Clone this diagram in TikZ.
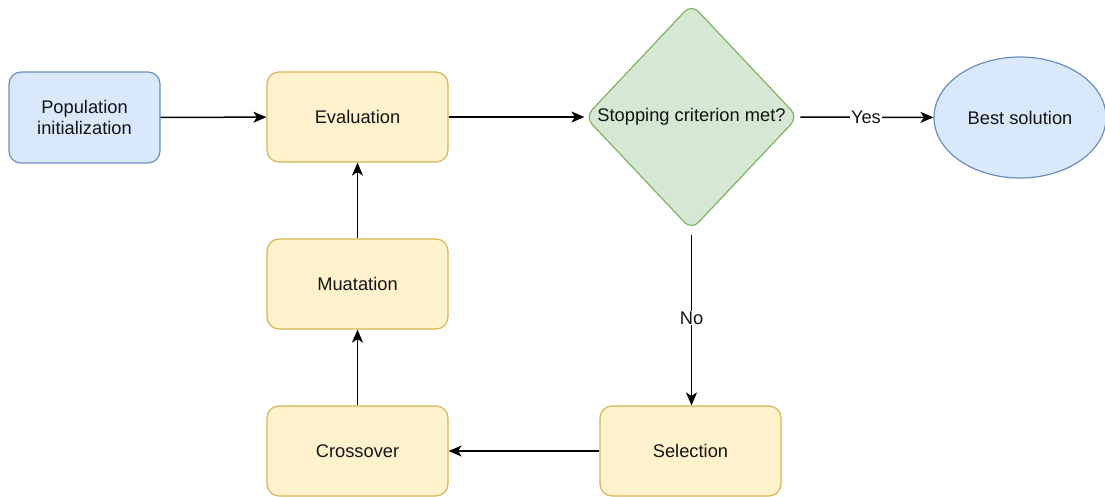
\documentclass[tikz,border=0pt]{standalone}
\usepackage{fontspec}
\setmainfont{Liberation Sans}
\usetikzlibrary{shapes.geometric,arrows.meta}
\definecolor{bluefill}{HTML}{DAE8FC}
\definecolor{bluedraw}{HTML}{6C8EBF}
\definecolor{yellowfill}{HTML}{FFF2CC}
\definecolor{yellowdraw}{HTML}{D6B656}
\definecolor{greenfill}{HTML}{D5E8D4}
\definecolor{greendraw}{HTML}{82B366}
\tikzset{
  every node/.style={font=\fontsize{18.3}{21.5}\selectfont, text=black!92},
  stepbox/.style={draw=yellowdraw, fill=yellowfill, line width=1.2pt, rounded corners=12pt,
    minimum width=181pt, minimum height=90pt, inner sep=0pt, align=center},
  startbox/.style={draw=bluedraw, fill=bluefill, line width=1.2pt, rounded corners=12pt,
    minimum width=151pt, minimum height=91pt, inner sep=0pt, align=center},
  decision/.style={diamond, draw=greendraw, fill=greenfill, line width=1.2pt, rounded corners=10pt,
    minimum width=213pt, minimum height=226pt, inner sep=0pt},
  endnode/.style={ellipse, draw=bluedraw, fill=bluefill, line width=1.2pt,
    minimum width=172pt, minimum height=121pt, inner sep=0pt},
  flow/.style={-{Stealth[length=13pt,width=11pt,inset=3.5pt]}, line width=1.5pt, black},
  edgelabel/.style={fill=white, inner sep=1pt}
}
\begin{document}
\begin{tikzpicture}[x=1pt, y=-1pt]
  \useasboundingbox (0,0) rectangle (1105,496);
  \begin{scope}
    \clip (0,0) rectangle (1105,496);
    \node[startbox] (init) at (84.5,117.5) {Population\\initialization};
    \node[stepbox] (eval) at (357.5,117) {Evaluation};
    \node[decision, label={[name=crit]center:Stopping criterion met?}] (stop) at (691.5,117) {};
    \node[endnode] (best) at (1020,117.5) {Best solution};
    \node[stepbox] (mut) at (357.5,284) {Muatation};
    \node[stepbox] (cross) at (357.5,451) {Crossover};
    \node[stepbox] (sel) at (690.5,451) {Selection};

    \draw[flow] (init) -- (eval);
    \draw[flow] (eval) -- (stop);
    \draw[flow, shorten <=2pt] (stop) -- node[edgelabel] {Yes} (best);
    \draw[flow, shorten <=4pt] (stop.south) -- node[edgelabel, pos=0.5] {No} (sel.north -| stop.south);
    \draw[flow] (sel) -- (cross);
    \draw[flow] (cross) -- (mut);
    \draw[flow] (mut) -- (eval);
  \end{scope}
\end{tikzpicture}
\end{document}
